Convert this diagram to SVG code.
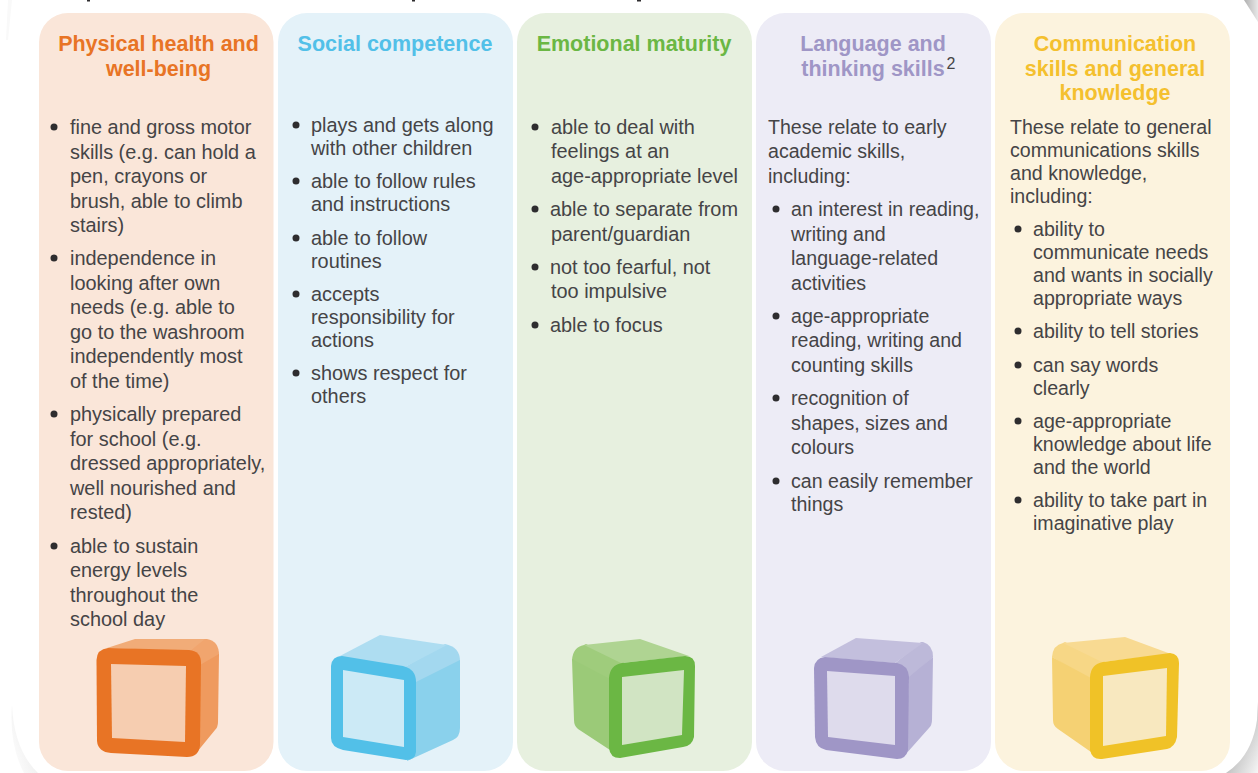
<svg xmlns="http://www.w3.org/2000/svg" width="1258" height="773" viewBox="0 0 1258 773">
<style>
text{font-family:"Liberation Sans",Arial,sans-serif}
.t{font-size:19.900px;fill:#454446}
.u{font-size:19.600px;fill:#454446}
.h{font-size:21.500px;font-weight:700;text-anchor:middle}
.b{fill:#2e2d2f}
</style>
<defs>
<linearGradient id="sr" x1="0.25" y1="0.25" x2="1" y2="1"><stop offset="0" stop-color="#a8a8a8"/><stop offset="0.55" stop-color="#d4d4d4"/><stop offset="1" stop-color="#f6f6f6"/></linearGradient>
<linearGradient id="sl" x1="1" y1="0.2" x2="0" y2="1"><stop offset="0" stop-color="#e8e8e8"/><stop offset="1" stop-color="#fff"/></linearGradient>
<linearGradient id="st" x1="0" y1="0" x2="1" y2="0"><stop offset="0" stop-color="#b0b0b0"/><stop offset="1" stop-color="#e8e8e8"/></linearGradient>
</defs>
<rect width="1258" height="773" fill="#fff"/>
<g id="backdrop">
<path d="M1258 702V773H1226Q1252 756 1257 720Z" fill="url(#sr)"/>
<path d="M12 705Q14 750 38 773H24Q9 745 12 705Z" fill="url(#sl)"/>
<path d="M1244 0H1258V22Z" fill="url(#st)"/>
<path d="M8 0H12L8 40H6Z" fill="#f9f9f9"/>
<rect class="b" x="87" y="0" width="3" height="1.500"/><rect class="b" x="412" y="0" width="3" height="1.500"/><rect class="b" x="637" y="0" width="4" height="1.500"/>
</g>
<g id="physical">
<rect x="39" y="13" width="234.500" height="758" rx="29" fill="#fae6d9"/>
<path d="M188 652L203 639H207Q219 641 219 655L201 667Z" fill="#f1a56e"/>
<path d="M107 648L135 639H205L190 651Z" fill="#f1ac78"/>
<path d="M200 665L219 654L218 722Q218 727 215 730L197 752Z" fill="#ef9a5e"/>
<path d="M108 648L189 650Q201 651 201 663L200 745Q199 757 187 757L111 753Q98 752 97 741L96.500 660Q97 649 108 648Z" fill="#e87425"/>
<path d="M111 664L186 666L185 742L112 738Z" fill="#f6cdb0"/>
<text class="h" fill="#e87425"><tspan x="158.500" y="50.500">Physical health and</tspan><tspan x="158.500" y="75.500">well-being</tspan></text>
<circle class="b" cx="54" cy="127" r="3.500"/><circle class="b" cx="54" cy="258" r="3.500"/><circle class="b" cx="54" cy="414" r="3.500"/><circle class="b" cx="54" cy="546" r="3.500"/>
<text class="t"><tspan x="70" y="134">fine and gross motor</tspan><tspan x="70" y="159">skills (e.g. can hold a</tspan><tspan x="70" y="183">pen, crayons or</tspan><tspan x="70" y="208">brush, able to climb</tspan><tspan x="70" y="232">stairs)</tspan><tspan x="70" y="265">independence in</tspan><tspan x="70" y="290">looking after own</tspan><tspan x="70" y="314">needs (e.g. able to</tspan><tspan x="70" y="339">go to the washroom</tspan><tspan x="70" y="363">independently most</tspan><tspan x="70" y="388">of the time)</tspan><tspan x="70" y="421">physically prepared</tspan><tspan x="70" y="446">for school (e.g.</tspan><tspan x="70" y="470">dressed appropriately,</tspan><tspan x="70" y="495">well nourished and</tspan><tspan x="70" y="519">rested)</tspan><tspan x="70" y="553">able to sustain</tspan><tspan x="70" y="577">energy levels</tspan><tspan x="70" y="602">throughout the</tspan><tspan x="70" y="626">school day</tspan></text>
</g>
<g id="social">
<rect x="278" y="13" width="235" height="758" rx="29" fill="#e4f2f9"/>
<path d="M403 668L445 644Q460 647 460 661L417 684Z" fill="#a3d8ef"/>
<path d="M338 657L380 635L447 645L405 667Z" fill="#aeddf1"/>
<path d="M416 682L460 660V728Q460 737 453 740L407 761Z" fill="#8ad1ec"/>
<path d="M342 656L403 666Q416 669 416 682V752Q415 760 406 760L343 750Q331 747 331 738V666Q332 656 342 656Z" fill="#52c0e8"/>
<path d="M343 670L404 680V747L343 737Z" fill="#cceaf6"/>
<text class="h" fill="#52c0e8" x="395" y="50.500">Social competence</text>
<circle class="b" cx="296" cy="125" r="3.500"/><circle class="b" cx="296" cy="181" r="3.500"/><circle class="b" cx="296" cy="238" r="3.500"/><circle class="b" cx="296" cy="294" r="3.500"/><circle class="b" cx="296" cy="373" r="3.500"/>
<text class="t"><tspan x="311" y="132">plays and gets along</tspan><tspan x="311" y="155">with other children</tspan><tspan x="311" y="188">able to follow rules</tspan><tspan x="311" y="211">and instructions</tspan><tspan x="311" y="245">able to follow</tspan><tspan x="311" y="268">routines</tspan><tspan x="311" y="301">accepts</tspan><tspan x="311" y="324">responsibility for</tspan><tspan x="311" y="347">actions</tspan><tspan x="311" y="380">shows respect for</tspan><tspan x="311" y="403">others</tspan></text>
</g>
<g id="emotional">
<rect x="517" y="13" width="235" height="758" rx="29" fill="#e7f0df"/>
<path d="M586 644L624 662L609 681L572 660Q573 647 584 645Z" fill="#9fcc7c"/>
<path d="M584 645L640 639L689 656L621 663Z" fill="#afd492"/>
<path d="M572 659L610 679V750L578 729Q574 726 574 720Z" fill="#9bca78"/>
<path d="M622 663L685 656Q695 656 695 666L694 737Q692 746 683 747L620 758Q610 758 609 748V678Q610 665 622 663Z" fill="#6bb744"/>
<path d="M622 677L684 670L682 735L622 745Z" fill="#d1e4c3"/>
<text class="h" fill="#6bb744" x="634" y="50.500">Emotional maturity</text>
<circle class="b" cx="535" cy="127" r="3.500"/><circle class="b" cx="535" cy="209" r="3.500"/><circle class="b" cx="535" cy="267" r="3.500"/><circle class="b" cx="535" cy="325" r="3.500"/>
<text class="t"><tspan x="551" y="134">able to deal with</tspan><tspan x="551" y="158">feelings at an</tspan><tspan x="551" y="183">age-appropriate level</tspan><tspan x="550" y="216">able to separate from</tspan><tspan x="551" y="241">parent/guardian</tspan><tspan x="550" y="274">not too fearful, not</tspan><tspan x="551" y="298">too impulsive</tspan><tspan x="550" y="332">able to focus</tspan></text>
</g>
<g id="language">
<rect x="756" y="13" width="235" height="758" rx="29" fill="#edecf6"/>
<path d="M893 665L921 642H923Q933 645 933 657L909 679Z" fill="#bdb9d9"/>
<path d="M821 657L856 638L923 643L895 663Z" fill="#c3bfdd"/>
<path d="M909 677L933 657L932 720Q932 725 929 728L905 755Z" fill="#b6b1d5"/>
<path d="M825 657L897 663Q908 665 909 677L908 750Q906 759 897 759L826 750Q816 748 815 737L814 668Q815 658 825 657Z" fill="#9f96c6"/>
<path d="M827 671L895 676V745L828 737Z" fill="#dedbec"/>
<text class="h" fill="#9f96c6"><tspan x="873" y="50.500">Language and</tspan><tspan x="873" y="75.500">thinking skills</tspan></text>
<text x="946.500" y="69" font-size="16" fill="#454446">2</text>
<circle class="b" cx="776" cy="209" r="3.500"/><circle class="b" cx="776" cy="316" r="3.500"/><circle class="b" cx="776" cy="398" r="3.500"/><circle class="b" cx="776" cy="481" r="3.500"/>
<text class="u"><tspan x="768" y="134">These relate to early</tspan><tspan x="768" y="158">academic skills,</tspan><tspan x="768" y="183">including:</tspan><tspan x="791" y="216">an interest in reading,</tspan><tspan x="791" y="241">writing and</tspan><tspan x="791" y="265">language-related</tspan><tspan x="791" y="290">activities</tspan><tspan x="791" y="323">age-appropriate</tspan><tspan x="791" y="347">reading, writing and</tspan><tspan x="791" y="372">counting skills</tspan><tspan x="791" y="405">recognition of</tspan><tspan x="791" y="430">shapes, sizes and</tspan><tspan x="791" y="454">colours</tspan><tspan x="791" y="488">can easily remember</tspan><tspan x="791" y="511">things</tspan></text>
</g>
<g id="communication">
<rect x="995" y="13" width="235" height="758" rx="29" fill="#fcf3de"/>
<path d="M1065 642L1105 661L1090 680L1052 657Q1053 645 1063 643Z" fill="#f7d786"/>
<path d="M1063 643L1125 637L1171 654L1102 662Z" fill="#f8da92"/>
<path d="M1052 657L1091 678V752L1058 729Q1053 726 1053 720Z" fill="#f5d173"/>
<path d="M1103 662L1170 653Q1179 654 1179 663L1177 737Q1175 747 1167 749L1102 759Q1092 760 1090 750V677Q1091 664 1103 662Z" fill="#f0c227"/>
<path d="M1103 676L1167 668L1166 736L1103 746Z" fill="#f8e8bf"/>
<text class="h" fill="#f4c02e"><tspan x="1115" y="50.500">Communication</tspan><tspan x="1115" y="75.500">skills and general</tspan><tspan x="1115" y="100">knowledge</tspan></text>
<circle class="b" cx="1018" cy="229" r="3.500"/><circle class="b" cx="1018" cy="331" r="3.500"/><circle class="b" cx="1018" cy="365" r="3.500"/><circle class="b" cx="1018" cy="421" r="3.500"/><circle class="b" cx="1018" cy="500" r="3.500"/>
<text class="u"><tspan x="1010" y="134">These relate to general</tspan><tspan x="1010" y="157">communications skills</tspan><tspan x="1010" y="180">and knowledge,</tspan><tspan x="1010" y="203">including:</tspan><tspan x="1033" y="236">ability to</tspan><tspan x="1033" y="259">communicate needs</tspan><tspan x="1033" y="282">and wants in socially</tspan><tspan x="1033" y="305">appropriate ways</tspan><tspan x="1033" y="338">ability to tell stories</tspan><tspan x="1033" y="372">can say words</tspan><tspan x="1033" y="395">clearly</tspan><tspan x="1033" y="428">age-appropriate</tspan><tspan x="1033" y="451">knowledge about life</tspan><tspan x="1033" y="474">and the world</tspan><tspan x="1033" y="507">ability to take part in</tspan><tspan x="1033" y="530">imaginative play</tspan></text>
</g>
<g id="connectors"/>
</svg>
